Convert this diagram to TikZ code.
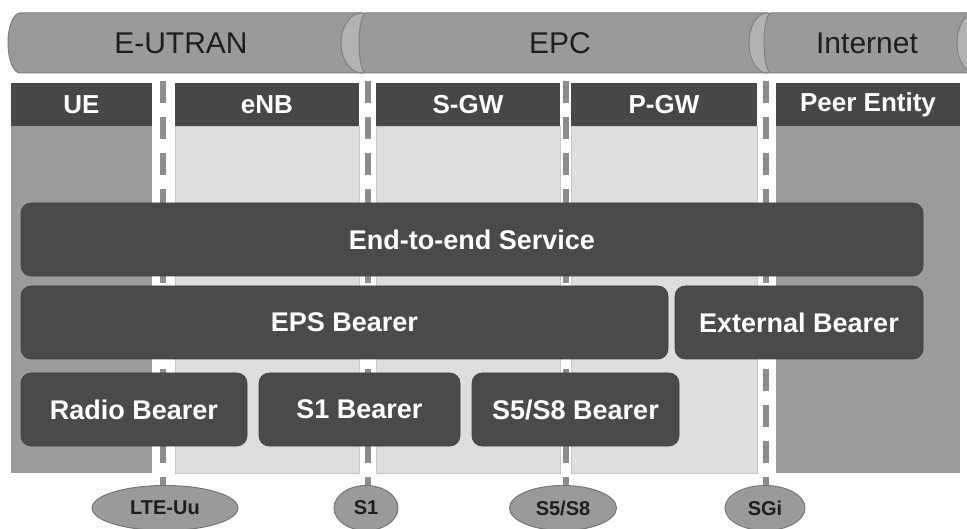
\documentclass[tikz,border=0pt]{standalone}
\usepackage{fontspec}
\setmainfont{Liberation Sans}
\usetikzlibrary{shapes.geometric}

\definecolor{bannerfill}{HTML}{9A9A9A}
\definecolor{bannerline}{HTML}{808080}
\definecolor{capfill}{HTML}{B2B2B2}
\definecolor{headfill}{HTML}{474747}
\definecolor{darkbody}{HTML}{9B9B9B}
\definecolor{lightbody}{HTML}{DDDDDD}
\definecolor{lightline}{HTML}{C8C8C8}
\definecolor{boxfill}{HTML}{4A4A4A}
\definecolor{dashgray}{HTML}{8C8C8C}
\definecolor{ifline}{HTML}{777777}
\definecolor{darktext}{HTML}{1E1E1E}

\tikzset{
  bannertext/.style={text=darktext, font=\fontsize{30}{34}\selectfont},
  headbox/.style={fill=headfill, draw=none},
  headtext/.style={text=white, font=\fontsize{26}{30}\selectfont\bfseries},
  bearer/.style={rectangle, rounded corners=10pt, fill=boxfill, draw=boxfill!85!black,
    line width=0.6pt, text=white, font=\fontsize{27}{31}\selectfont\bfseries,
    minimum height=73pt, inner sep=0pt},
  ifnode/.style={ellipse, fill=bannerfill, draw=ifline, line width=1pt,
    minimum height=45pt, inner sep=0pt, text=darktext,
    font=\fontsize{20}{24}\selectfont\bfseries},
  ifdash/.style={draw=dashgray, line width=5.5pt, dash pattern=on 22pt off 14pt}
}

\begin{document}
\begin{tikzpicture}[x=1pt, y=-1pt]
\path[use as bounding box] (0,0) rectangle (967,529);
\clip (0,0) rectangle (967,529);

% ---- domain banners (horizontal cylinders) ----
\filldraw[fill=bannerfill, draw=bannerline, line width=1pt]
  (362,13) -- (20,13) arc[start angle=270, end angle=90, x radius=12, y radius=30]
  -- (362,73) arc[start angle=90, end angle=-90, x radius=21, y radius=30] -- cycle;
\filldraw[fill=capfill, draw=bannerline, line width=1pt] (362,43) ellipse [x radius=21, y radius=30];

\filldraw[fill=bannerfill, draw=bannerline, line width=1pt]
  (767,13) -- (366,13) arc[start angle=270, end angle=90, x radius=7, y radius=30]
  -- (767,73) arc[start angle=90, end angle=-90, x radius=18, y radius=30] -- cycle;
\filldraw[fill=capfill, draw=bannerline, line width=1pt] (767,43) ellipse [x radius=18, y radius=30];

\filldraw[fill=bannerfill, draw=bannerline, line width=1pt]
  (975,13) -- (771,13) arc[start angle=270, end angle=90, x radius=7, y radius=30]
  -- (975,73) arc[start angle=90, end angle=-90, x radius=18, y radius=30] -- cycle;
\filldraw[fill=capfill, draw=bannerline, line width=1pt] (975,43) ellipse [x radius=18, y radius=30];

\node[bannertext] (eutran) at (181,43) {E-UTRAN};
\node[bannertext] (epc) at (560,43) {EPC};
\node[bannertext] (inet) at (867,43) {Internet};

% ---- network element columns ----
\fill[darkbody] (11,126) rectangle (152,473);
\filldraw[fill=lightbody, draw=lightline, line width=0.8pt] (175,126) rectangle (359,473);
\filldraw[fill=lightbody, draw=lightline, line width=0.8pt] (376,126) rectangle (560,473);
\filldraw[fill=lightbody, draw=lightline, line width=0.8pt] (571,126) rectangle (757,473);
\fill[darkbody] (776,126) rectangle (960,473);

\fill[headbox] (11,83) rectangle (152,126);
\fill[headbox] (175,83) rectangle (359,126);
\fill[headbox] (376,83) rectangle (560,126);
\fill[headbox] (571,83) rectangle (757,126);
\fill[headbox] (776,83) rectangle (960,126);

\node[headtext] (ue)   at (81.5,105) {UE};
\node[headtext] (enb)  at (267,105) {eNB};
\node[headtext] (sgw)  at (468,105) {S-GW};
\node[headtext] (pgw)  at (664,105) {P-GW};
\node[headtext] (peer) at (868,105) {Peer Entity};

% ---- interface reference points ----
\node[ifnode, minimum width=146pt] (uu)   at (165,508) {LTE-Uu};
\node[ifnode, minimum width=64pt]  (s1)   at (366,508) {S1};
\node[ifnode, minimum width=107pt] (s5s8) at (563,508) {S5/S8};
\node[ifnode, minimum width=80pt]  (sgi)  at (765,508) {SGi};

\coordinate (uutop)   at (163,81);
\coordinate (s1top)   at (368,81);
\coordinate (s5s8top) at (566,81);
\coordinate (sgitop)  at (766,81);

\draw[ifdash] (uutop)   -- (uutop |- uu.north);
\draw[ifdash] (s1top)   -- (s1top |- s1.north);
\draw[ifdash] (s5s8top) -- (s5s8top |- s5s8.north);
\draw[ifdash] (sgitop)  -- (sgitop |- sgi.north);

% ---- bearers ----
\node[bearer, minimum width=902pt] (e2e)   at (472,239.5) {End-to-end Service};
\node[bearer, minimum width=647pt] (eps)   at (344.5,322.5) {EPS Bearer};
\node[bearer, minimum width=248pt] (ext)   at (799,322.5) {External Bearer};
\node[bearer, minimum width=226pt] (radio) at (134,409.5) {Radio Bearer};
\node[bearer, minimum width=201pt] (s1b)   at (359.5,409.5) {S1 Bearer};
\node[bearer, minimum width=207pt] (s5b)   at (575.5,409.5) {S5/S8 Bearer};
\end{tikzpicture}
\end{document}
